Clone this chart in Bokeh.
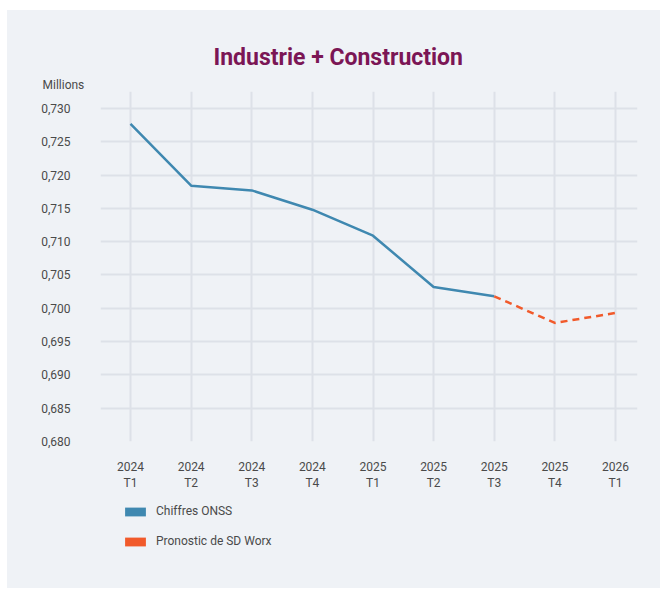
from bokeh.plotting import figure
from bokeh.models import (Range1d, FixedTicker, Title, Legend, LegendItem,
                          ColumnDataSource, Spacer)
from bokeh.layouts import column, row
from bokeh.embed import file_html
from bokeh.resources import INLINE

# ---- data ----
quarters = ["2024\nT1", "2024\nT2", "2024\nT3", "2024\nT4", "2025\nT1",
            "2025\nT2", "2025\nT3", "2025\nT4", "2026\nT1"]
onss_values = [0.7277, 0.7184, 0.7177, 0.7148, 0.7109, 0.7032, 0.7018]
forecast_quarters = ["2025\nT3", "2025\nT4", "2026\nT1"]
forecast_values = [0.7018, 0.6978, 0.6993]
y_ticks = [0.680, 0.685, 0.690, 0.695, 0.700, 0.705, 0.710, 0.715, 0.720, 0.725, 0.730]
y_tick_labels = ["0,680", "0,685", "0,690", "0,695", "0,700", "0,705",
                 "0,710", "0,715", "0,720", "0,725", "0,730"]
title_text = "Industrie + Construction"
unit_text = "Millions"
series_names = ["Chiffres ONSS", "Pronostic de SD Worx"]

BG = "#eff2f6"
GRID = "#dde1e8"
BLUE = "#3f88b0"
ORANGE = "#f15a2b"
TXT = "#4a4a4a"
FONT = "Roboto"

pos = {q: i for i, q in enumerate(quarters)}

p = figure(width=653, height=484, output_backend="svg", toolbar_location=None,
           x_range=Range1d(-0.495, 8.363), y_range=Range1d(0.680, 0.73255),
           min_border_left=93, min_border_right=23, min_border_top=81,
           min_border_bottom=53)
p.title = None
p.background_fill_color = None
p.border_fill_color = None
p.outline_line_color = None

p.xaxis.ticker = FixedTicker(ticks=list(range(len(quarters))))
p.xaxis.major_label_overrides = {i: q for i, q in enumerate(quarters)}
p.yaxis.ticker = FixedTicker(ticks=y_ticks)
p.yaxis.major_label_overrides = {t: l for t, l in zip(y_ticks, y_tick_labels)}

for ax in (p.xaxis, p.yaxis):
    ax.axis_line_color = None
    ax.major_tick_line_color = None
    ax.minor_tick_line_color = None
    ax.major_tick_out = 0
    ax.major_tick_in = 0
    ax.major_label_text_font = FONT
    ax.major_label_text_font_size = "12px"
    ax.major_label_text_color = TXT
p.yaxis.major_label_standoff = 30
p.xaxis.major_label_standoff = 18

p.xgrid.ticker = FixedTicker(ticks=list(range(len(quarters))))
p.ygrid.ticker = FixedTicker(ticks=y_ticks)
for g in (p.xgrid, p.ygrid):
    g.grid_line_color = GRID
    g.grid_line_width = 2

src1 = ColumnDataSource(dict(x=[pos[q] for q in quarters[:len(onss_values)]], y=onss_values))
src2 = ColumnDataSource(dict(x=[pos[q] for q in forecast_quarters], y=forecast_values))
p.line("x", "y", source=src1, line_color=BLUE, line_width=2.5)
p.line("x", "y", source=src2, line_color=ORANGE, line_width=2.5, line_dash="7 5")

unit_title = Title(text=unit_text, align="left", offset=-58, standoff=0,
                   text_font=FONT, text_font_size="12px",
                   text_font_style="normal", text_color=TXT)
main_title = Title(text=title_text, align="left", offset=113, standoff=10,
                   text_font=FONT, text_font_size="23px",
                   text_font_style="bold", text_color="#7b1655")
p.add_layout(unit_title, "above")
p.add_layout(main_title, "above")

# ---- legend panel ----
pl = figure(width=653, height=94, output_backend="svg", toolbar_location=None,
            x_range=Range1d(0, 1), y_range=Range1d(0, 1),
            x_axis_type=None, y_axis_type=None,
            min_border_left=0, min_border_right=0, min_border_top=0,
            min_border_bottom=0)
pl.title = None
pl.background_fill_color = None
pl.border_fill_color = None
pl.outline_line_color = None
pl.xgrid.visible = False
pl.ygrid.visible = False
q1 = pl.quad(left=[0], right=[0], top=[0], bottom=[0],
             fill_color=BLUE, line_color=None)
q2 = pl.quad(left=[0], right=[0], top=[0], bottom=[0],
             fill_color=ORANGE, line_color=None)
legend = Legend(items=[LegendItem(label=series_names[0], renderers=[q1]),
                       LegendItem(label=series_names[1], renderers=[q2])],
                location=(22, 40), orientation="vertical",
                glyph_width=26, glyph_height=11, label_standoff=8,
                label_text_font=FONT, label_text_font_size="12px",
                label_text_color=TXT, label_height=11, spacing=16,
                padding=0, margin=0,
                background_fill_alpha=0, border_line_color=None)
pl.add_layout(legend, "center")

panel = column(p, pl, styles={"background-color": BG})
layout = row(Spacer(width=7), column(Spacer(height=10), panel))
open("out.html", "w").write(file_html(layout, INLINE))
